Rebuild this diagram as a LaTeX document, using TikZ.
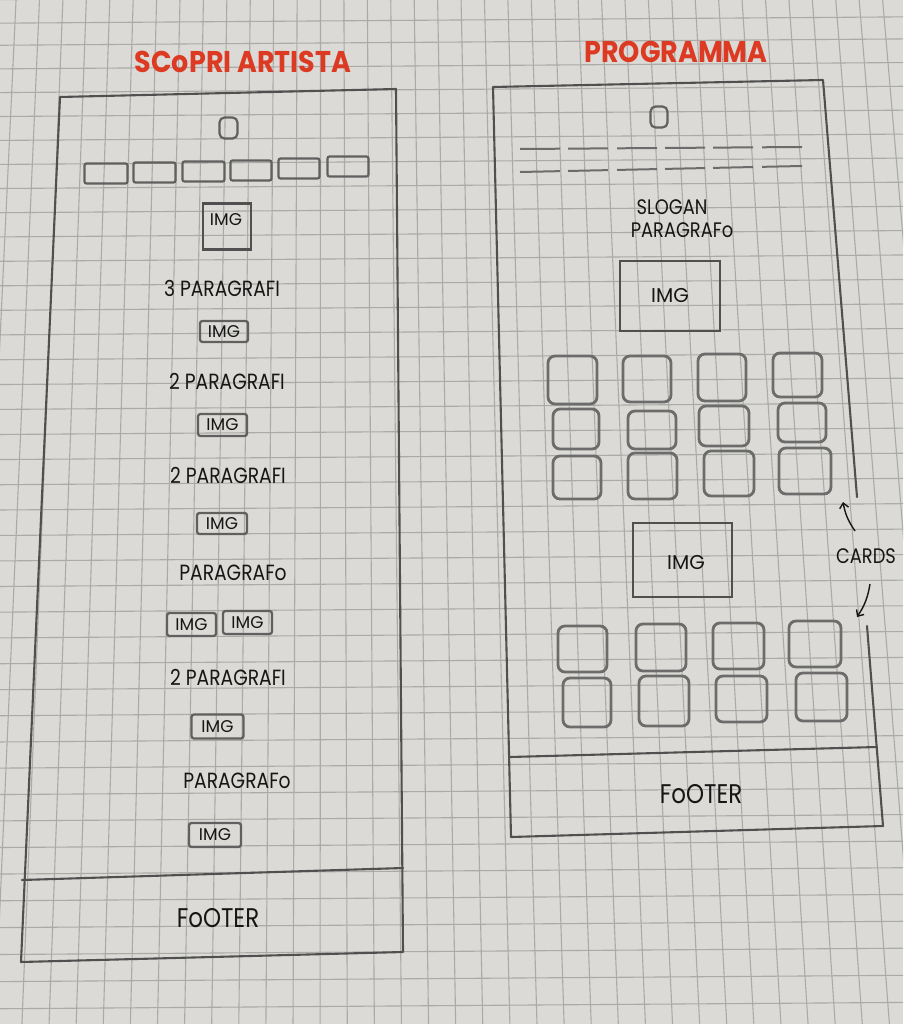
\documentclass[tikz,border=0pt]{standalone}
\usepackage{fontspec}
\setmainfont{Poppins}
\newfontfamily\hand{Poppins}
\newfontfamily\handn[FakeStretch=0.85]{Poppins}
\newfontfamily\ttl[FakeStretch=0.9]{Poppins}
\usetikzlibrary{arrows.meta}
\definecolor{paper}{RGB}{219,218,214}
\definecolor{gridc}{RGB}{170,170,167}
\definecolor{linec}{RGB}{80,80,80}
\definecolor{boxc}{RGB}{96,96,96}
\definecolor{cardc}{RGB}{108,108,108}
\definecolor{ink}{RGB}{22,22,22}
\definecolor{redt}{RGB}{220,58,35}
\tikzset{
  gridline/.style={draw=gridc, line width=1.1pt},
  frame/.style={draw=linec, line width=2.1pt, line join=round, line cap=round},
  logo/.style={draw=boxc, line width=2.2pt, rounded corners=5pt, inner sep=0pt, outer sep=0pt},
  navbox/.style={draw=boxc, line width=2.2pt, rounded corners=2pt, inner sep=0pt, outer sep=0pt},
  imgsmall/.style={draw=boxc, line width=2.3pt, rounded corners=2.5pt, inner sep=0pt, outer sep=0pt, text=ink, font=\hand\fontsize{17}{17}\selectfont},
  imgbig/.style={draw=linec, line width=2.1pt, inner sep=0pt, outer sep=0pt, text=ink, font=\hand\fontsize{20}{20}\selectfont},
  card/.style={draw=cardc, line width=2.8pt, rounded corners=7pt, inner sep=0pt, outer sep=0pt},
  dashln/.style={draw=cardc, line width=2pt},
  hand/.style={text=ink, inner sep=0pt, font=\handn\fontsize{22}{22}\selectfont},
  ttlstyle/.style={text=redt, inner sep=0pt, font=\ttl\bfseries\fontsize{30}{30}\selectfont},
  arr/.style={draw=ink, line width=1.4pt, -{Straight Barb[length=5pt,width=9pt]}}
}
\begin{document}
\begin{tikzpicture}[x=1pt,y=-1pt]
\fill[paper] (0,0) rectangle (903,1024);
\useasboundingbox (0,0) rectangle (903,1024);
% grid paper
\begin{scope}
\clip (0,0) rectangle (903,1024);
\foreach \k in {-2,...,41}{
  \pgfmathsetmacro\xz{13.7+23.6*\k}
  \pgfmathsetmacro\xa{323+(\xz-323)*(1-0.000157*60)}
  \pgfmathsetmacro\xb{323+(\xz-323)*(1+0.000157*1040)}
  \draw[gridline] (\xa,-10) -- (\xb,1090);
}
\foreach \j in {-2,...,40}{
  \pgfmathsetmacro\yc{-6326+6369*exp(0.003705*\j)}
  \pgfmathsetmacro\sl{-0.007-0.000006*\yc}
  \pgfmathsetmacro\ya{\yc-333*\sl}
  \pgfmathsetmacro\yb{\yc+590*\sl}
  \draw[gridline] (-10,\ya) -- (913,\yb);
}
\end{scope}

% ---------------- titles
\node[ttlstyle] (t1) at (243,62) {SCoPRI ARTISTA};
\node[ttlstyle] (t2) at (676,52) {PROGRAMMA};

% ---------------- left page: SCOPRI ARTISTA
\draw[frame] (60,97) -- (396,89) -- (403,952) -- (21,962) -- cycle;
\draw[frame] (22,880) -- (403,868);

\node[logo, minimum width=18pt, minimum height=21pt] (logoL) at (228.5,128) {};
\node[navbox, minimum width=43pt, minimum height=20pt] (n1) at (106,173.5) {};
\node[navbox, minimum width=42pt, minimum height=20pt] (n2) at (154.5,172.5) {};
\node[navbox, minimum width=42pt, minimum height=20pt] (n3) at (203.5,171.5) {};
\node[navbox, minimum width=41pt, minimum height=20pt] (n4) at (251,170.5) {};
\node[navbox, minimum width=41pt, minimum height=20pt] (n5) at (299,168.5) {};
\node[navbox, minimum width=41pt, minimum height=20pt] (n6) at (348,166.5) {};

\node[imgbig, minimum width=48pt, minimum height=46pt] (imgL0) at (227,226.5) {};
\node[hand, font=\hand\fontsize{17}{17}\selectfont] (imgL0t) at (226,220) {IMG};

\node[hand] (p1) at (222,288) {3 PARAGRAFI};
\node[imgsmall, minimum width=48pt, minimum height=21pt] (i1) at (224,331.5) {IMG};
\node[hand] (p2) at (227,381) {2 PARAGRAFI};
\node[imgsmall, minimum width=49pt, minimum height=22pt] (i2) at (222.5,425) {IMG};
\node[hand] (p3) at (228,475) {2 PARAGRAFI};
\node[imgsmall, minimum width=50pt, minimum height=21pt] (i3) at (222,523.5) {IMG};
\node[hand] (p4) at (233,573) {PARAGRAFo};
\node[imgsmall, minimum width=49pt, minimum height=23pt] (i4a) at (191.5,624.5) {IMG};
\node[imgsmall, minimum width=49pt, minimum height=23pt] (i4b) at (247.5,622.5) {IMG};
\node[hand] (p5) at (228,677) {2 PARAGRAFI};
\node[imgsmall, minimum width=52pt, minimum height=24pt] (i5) at (217.5,726.5) {IMG};
\node[hand] (p6) at (237,781) {PARAGRAFo};
\node[imgsmall, minimum width=52pt, minimum height=24pt] (i6) at (215,835) {IMG};

\node[hand, font=\handn\fontsize{27}{27}\selectfont] (footL) at (218,918) {FoOTER};

% ---------------- right page: PROGRAMMA
\draw[frame] (857,497) -- (823,80) -- (493,87) -- (511,837) -- (883,826) -- (867,626);
\draw[frame] (510,757) -- (877,747);

\node[logo, minimum width=17pt, minimum height=21pt] (logoR) at (659,117) {};

\foreach \a/\b in {520/560,568/608,617/657,665/705,713/753,762/802}{
  \draw[dashln] (\a,{149-2*(\a-520)/282}) -- (\b,{149-2*(\b-520)/282});
  \draw[dashln] (\a,{172-6*(\a-520)/282}) -- (\b,{172-6*(\b-520)/282});
}

\node[hand, font=\handn\fontsize{21}{21}\selectfont] (slogan) at (672,207) {SLOGAN};
\node[hand, font=\handn\fontsize{21}{21}\selectfont] (parR) at (682,230) {PARAGRAFo};

\node[imgbig, minimum width=100pt, minimum height=70pt] (imgR1) at (670,296) {IMG};

% cards block 1
\node[card, minimum width=49pt, minimum height=48pt] (c11) at (572.5,380) {};
\node[card, minimum width=48pt, minimum height=46pt] (c12) at (647,379) {};
\node[card, minimum width=48pt, minimum height=47pt] (c13) at (722,377.5) {};
\node[card, minimum width=49pt, minimum height=44pt] (c14) at (797.5,375) {};
\node[card, minimum width=46pt, minimum height=40pt] (c21) at (576,429) {};
\node[card, minimum width=48pt, minimum height=38pt] (c22) at (652,430) {};
\node[card, minimum width=50pt, minimum height=40pt] (c23) at (724,426) {};
\node[card, minimum width=48pt, minimum height=39pt] (c24) at (802,422.5) {};
\node[card, minimum width=48pt, minimum height=43pt] (c31) at (577,477.5) {};
\node[card, minimum width=49pt, minimum height=46pt] (c32) at (652.5,476) {};
\node[card, minimum width=50pt, minimum height=45pt] (c33) at (729,473.5) {};
\node[card, minimum width=52pt, minimum height=46pt] (c34) at (805,471) {};

\node[imgbig, minimum width=99pt, minimum height=74pt] (imgR2) at (682.5,560) {};
\node[hand, font=\hand\fontsize{20}{20}\selectfont] (imgR2t) at (686,563) {IMG};

% cards block 2
\node[card, minimum width=49pt, minimum height=46pt] (d11) at (582.5,649) {};
\node[card, minimum width=50pt, minimum height=47pt] (d12) at (661,647.5) {};
\node[card, minimum width=51pt, minimum height=46pt] (d13) at (738.5,646) {};
\node[card, minimum width=52pt, minimum height=46pt] (d14) at (815,644) {};
\node[card, minimum width=48pt, minimum height=49pt] (d21) at (587,702.5) {};
\node[card, minimum width=50pt, minimum height=50pt] (d22) at (664,701) {};
\node[card, minimum width=51pt, minimum height=46pt] (d23) at (741.5,699) {};
\node[card, minimum width=51pt, minimum height=48pt] (d24) at (821.5,697) {};

% CARDS label and arrows
\node[hand, font=\handn\fontsize{21}{21}\selectfont] (cards) at (866,556) {CARDS};
\coordinate (upT) at (855,531);
\coordinate (upH) at (843,502);
\coordinate (dnT) at (870,584);
\coordinate (dnH) at (857,617);
\draw[arr] (upT) to[bend left=12] (upH);
\draw[arr] (dnT) to[bend left=12] (dnH);

\node[hand, font=\handn\fontsize{27}{27}\selectfont] (footR) at (701,794) {FoOTER};
\end{tikzpicture}
\end{document}
